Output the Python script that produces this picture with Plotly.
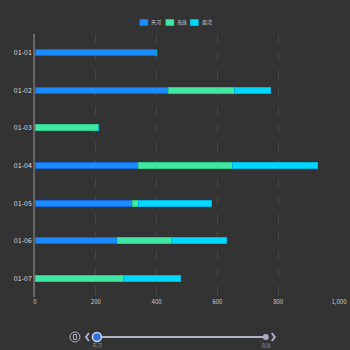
import plotly.graph_objects as go

dates = ["01-01", "01-02", "01-03", "01-04", "01-05", "01-06", "01-07"]
tianhe = [400, 440, 0, 340, 320, 270, 0]
haizhu = [0, 215, 210, 310, 20, 180, 290]
liwan = [0, 120, 0, 280, 240, 180, 190]
series_names = ["天河", "海珠", "荔湾"]
colors = ["#1a8cff", "#3ee8a4", "#00d8ff"]
edges = ["#1466d6", "#2fc98a", "#00b4e0"]
timeline_labels = ["天河", "海珠"]

fig = go.Figure()
for name, vals, c, e in zip(series_names, [tianhe, haizhu, liwan], colors, edges):
    fig.add_trace(go.Bar(
        y=dates, x=vals, name=name, orientation="h", showlegend=False,
        marker=dict(color=c, line=dict(color=e, width=1)),
    ))

# plot area in pixels: x 35..339.3, y 34..297
L, R, T, B = 35, 339.3, 34, 297
def px(x):
    return (x - L) / (R - L)
def py(y):
    return (B - y) / (B - T)

shapes = []
ann = []

# legend (manual, small rounded rectangles)
leg_x = [140, 166, 190.5]
for name, c, lx in zip(series_names, colors, leg_x):
    shapes.append(dict(type="rect", xref="paper", yref="paper",
                       x0=px(lx), x1=px(lx + 8), y0=py(25.5), y1=py(19.5),
                       fillcolor=c, line=dict(color=c, width=0.5)))
    ann.append(dict(text=name, xref="paper", yref="paper", x=px(lx + 9.5), y=py(22.5),
                    showarrow=False, font=dict(size=5, color="#cccccc"),
                    xanchor="left", yanchor="middle"))

ty = 337
# play button
shapes.append(dict(type="circle", xref="paper", yref="paper",
                   x0=px(70), x1=px(80), y0=py(ty + 5), y1=py(ty - 5),
                   line=dict(color="#aab0c0", width=1)))
shapes.append(dict(type="rect", xref="paper", yref="paper",
                   x0=px(73.5), x1=px(76.5), y0=py(ty + 2.5), y1=py(ty - 2.5),
                   line=dict(color="#aab0c0", width=1)))
# prev arrow
shapes.append(dict(type="path", xref="paper", yref="paper",
                   path=f"M {px(89)} {py(ty-4)} L {px(86)} {py(ty)} L {px(89)} {py(ty+4)}",
                   line=dict(color="#aab0d0", width=2)))
# next arrow
shapes.append(dict(type="path", xref="paper", yref="paper",
                   path=f"M {px(272)} {py(ty-4)} L {px(275)} {py(ty)} L {px(272)} {py(ty+4)}",
                   line=dict(color="#aab0d0", width=2)))
# timeline line
shapes.append(dict(type="line", xref="paper", yref="paper",
                   x0=px(97), x1=px(266), y0=py(ty), y1=py(ty),
                   line=dict(color="#b0b4c0", width=2)))
# right dot
shapes.append(dict(type="circle", xref="paper", yref="paper",
                   x0=px(263), x1=px(269), y0=py(ty + 3), y1=py(ty - 3),
                   fillcolor="#a4acd0", line=dict(color="#a4acd0", width=0)))
# left handle
shapes.append(dict(type="circle", xref="paper", yref="paper",
                   x0=px(92.5), x1=px(101.5), y0=py(ty + 4.5), y1=py(ty - 4.5),
                   fillcolor="#2f6fe0", line=dict(color="#d0d8f0", width=1.5)))
for lbl, xpix in zip(timeline_labels, [97, 266]):
    ann.append(dict(text=lbl, xref="paper", yref="paper", x=px(xpix), y=py(345),
                    showarrow=False, font=dict(size=5, color="#8a8a8a"),
                    xanchor="center", yanchor="middle"))

fig.update_layout(
    width=350, height=350,
    paper_bgcolor="#333333", plot_bgcolor="#333333",
    margin=dict(l=L, r=350 - R, t=T, b=350 - B, pad=0, autoexpand=False),
    barmode="stack", bargap=0.84,
    font=dict(family="Noto Sans CJK SC, Noto Sans, sans-serif", color="#cccccc"),
    showlegend=False,
    xaxis=dict(range=[0, 1000], tickvals=[0, 200, 400, 600, 800, 1000],
               tickformat=",d", showgrid=True, gridcolor="#454545", griddash="dash",
               gridwidth=1, zeroline=False, showline=False, automargin=False,
               tickfont=dict(size=6, color="#cccccc"), ticks="", fixedrange=True),
    yaxis=dict(type="category", autorange="reversed", showgrid=False, showline=True,
               linecolor="#666666", linewidth=1.5, ticks="", ticklen=0, automargin=False,
               tickfont=dict(size=7, color="#dddddd"), fixedrange=True),
    shapes=shapes, annotations=ann,
)

fig.write_html("out.html")
